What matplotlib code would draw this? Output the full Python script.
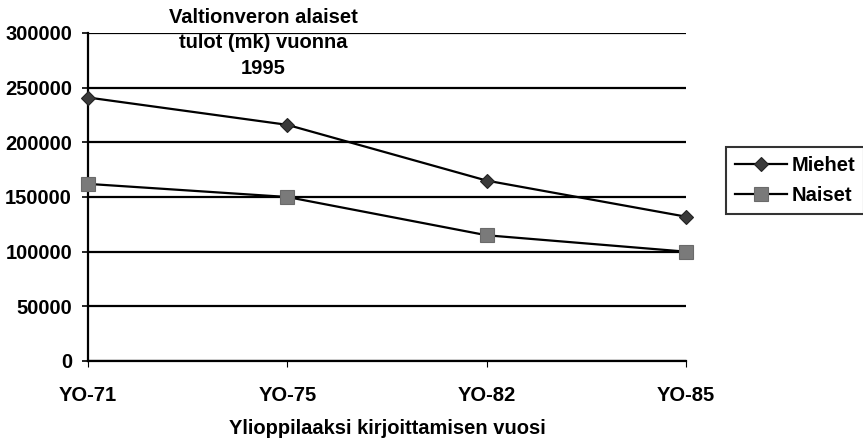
import matplotlib
matplotlib.use("Agg")
import matplotlib.pyplot as plt
import numpy as np

plt.rcParams['font.family'] = ['Liberation Sans', 'DejaVu Sans']
plt.rcParams['font.weight'] = 'bold'
plt.rcParams['axes.labelweight'] = 'bold'
plt.rcParams['font.size'] = 14.5

# income in 1995 (mk) by matriculation year
years = ['YO-71', 'YO-75', 'YO-82', 'YO-85']
miehet = [241000, 216000, 165000, 132000]
naiset = [162000, 150000, 115000, 100000]
yticks = [0, 50000, 100000, 150000, 200000, 250000, 300000]

fig = plt.figure(figsize=(8.63, 4.42), dpi=100)
ax = fig.add_axes([88/863, 1-361/442, 598/863, 328/442])

x = np.arange(len(years))
ax.plot(x, miehet, color='black', lw=1.6, marker='D', ms=7.5,
        mfc='#3a3a3a', mec='#222222', mew=0.8, label='Miehet',
        zorder=3, clip_on=False)
ax.plot(x, naiset, color='black', lw=1.6, marker='s', ms=10,
        mfc='#7a7a7a', mec='#6a6a6a', mew=0.8, label='Naiset',
        zorder=3, clip_on=False)

ax.set_xlim(0, 3)
ax.set_ylim(0, 300000)
ax.set_yticks(yticks)
ax.set_yticklabels([str(v) for v in yticks])
ax.set_xticks(x)
ax.set_xticklabels(years)

# horizontal grid lines
ax.yaxis.grid(True, color='black', lw=1.6)
ax.set_axisbelow(True)
for s in ['top', 'right']:
    ax.spines[s].set_visible(False)
ax.spines['left'].set_linewidth(1.6)
ax.spines['bottom'].set_linewidth(1.6)
ax.tick_params(axis='y', length=4.5, width=1.2, pad=7)
ax.tick_params(axis='x', length=4, width=0.8, pad=14, colors='black')

ax.set_xlabel('Ylioppilaaksi kirjoittamisen vuosi', labelpad=10)

fig.text(263/863, 1-43/442, 'Valtionveron alaiset\ntulot (mk) vuonna\n1995',
         ha='center', va='center', linespacing=1.45)

leg = fig.legend(loc='upper left', bbox_to_anchor=(726/863, 1-147/442),
                 handlelength=2.6, handletextpad=0.2, borderpad=0.45,
                 labelspacing=0.55, fancybox=False, frameon=True,
                 borderaxespad=0)
leg.get_frame().set_edgecolor('black')
leg.get_frame().set_linewidth(1.5)

plt.savefig('out.png', dpi=100)
